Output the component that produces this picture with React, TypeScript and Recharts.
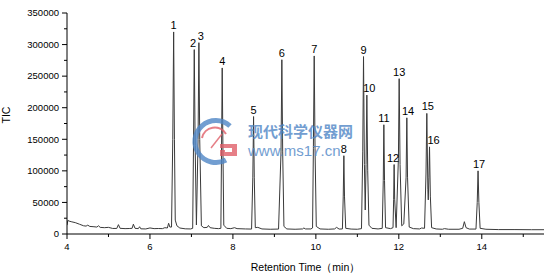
import React from "react";
import { ComposedChart, Line, Scatter, XAxis, YAxis } from "recharts";

// Retention time (min) of each sampled point of the TIC trace
const time = [
  4.0, 4.02, 4.05, 4.1, 4.2, 4.3, 4.4, 4.46, 4.5, 4.55, 4.65, 4.72, 4.76, 4.8, 4.9,
  5.0, 5.1, 5.2, 5.24, 5.28, 5.4, 5.5, 5.57, 5.6, 5.64, 5.72, 5.75, 5.78, 5.9, 6.0,
  6.1, 6.2, 6.3, 6.36, 6.42, 6.45, 6.48, 6.52, 6.55, 6.571, 6.59, 6.61, 6.65, 6.72,
  6.85, 6.98, 7.03, 7.05, 7.068, 7.09, 7.12, 7.16, 7.18, 7.2, 7.24, 7.3, 7.38, 7.41,
  7.45, 7.55, 7.65, 7.71, 7.725, 7.742, 7.76, 7.78, 7.85, 7.95, 8.04, 8.1, 8.3, 8.45,
  8.48, 8.498, 8.515, 8.54, 8.6, 8.7, 8.9, 9.1, 9.16, 9.18, 9.2, 9.23, 9.3, 9.5, 9.68,
  9.71, 9.75, 9.88, 9.92, 9.94, 9.96, 9.98, 10.01, 10.1, 10.3, 10.45, 10.5, 10.56,
  10.64, 10.66, 10.675, 10.69, 10.72, 10.85, 11.0, 11.1, 11.13, 11.149, 11.17, 11.19,
  11.21, 11.229, 11.25, 11.28, 11.35, 11.5, 11.6, 11.625, 11.639, 11.655, 11.68, 11.8,
  11.86, 11.875, 11.887, 11.9, 11.935, 11.99, 12.008, 12.03, 12.07, 12.12, 12.175,
  12.193, 12.21, 12.25, 12.35, 12.5, 12.55, 12.62, 12.655, 12.675, 12.7, 12.71, 12.725,
  12.74, 12.76, 12.79, 12.9, 13.05, 13.1, 13.2, 13.45, 13.54, 13.58, 13.62, 13.7, 13.86,
  13.89, 13.91, 13.93, 13.96, 14.1, 14.4, 14.8, 15.2, 15.5,
];

// TIC intensity at each of the times above
const tic = [
  14000, 21500, 20500, 19500, 18000, 15500, 13000, 12500, 14000, 12000, 11500, 11000,
  13000, 10500, 10000, 10500, 8800, 8800, 14800, 9000, 8500, 8700, 9000, 15500, 9000,
  8500, 11500, 8200, 8000, 9600, 8500, 8700, 8500, 10000, 9500, 17000, 11000, 11000,
  150000, 320000, 150000, 22000, 13000, 9500, 8200, 8000, 9000, 140000, 292000, 140000,
  14300, 150000, 303000, 150000, 13000, 10000, 10500, 13500, 10000, 9000, 8500, 9000,
  130000, 263000, 130000, 14000, 9000, 8500, 10000, 8500, 8000, 7800, 90000, 186000,
  90000, 10000, 10500, 8000, 7500, 7800, 130000, 276000, 130000, 12000, 8000, 7500,
  8000, 9500, 8000, 8000, 9500, 135000, 282000, 135000, 12000, 8000, 7500, 8000, 10500,
  7800, 8000, 60000, 124000, 60000, 9000, 7800, 7500, 8500, 130000, 281000, 110000,
  38000, 110000, 220000, 100000, 14000, 9000, 8000, 9000, 85000, 173000, 85000, 10000,
  8500, 10000, 55000, 110000, 55000, 10000, 120000, 246000, 110000, 13000, 16000, 90000,
  184000, 90000, 11000, 8500, 8000, 9500, 9000, 95000, 191000, 70000, 54000, 90000,
  138000, 60000, 10000, 8000, 7500, 8500, 7500, 7500, 9000, 19500, 10000, 7800, 7800,
  50000, 100000, 50000, 9000, 7500, 7000, 7000, 6800, 6800,
];

// Numbered peaks: label, apex time, apex height
const peakLabels = ["1", "2", "3", "4", "5", "6", "7", "8", "9", "10", "11", "12", "13", "14", "15", "16", "17"];
const peakTimes = [6.571, 7.068, 7.18, 7.742, 8.498, 9.18, 9.96, 10.675, 11.149, 11.229, 11.639, 11.887, 12.008, 12.193, 12.675, 12.74, 13.91];
const peakHeights = [320000, 292000, 303000, 263000, 186000, 276000, 282000, 124000, 281000, 220000, 173000, 110000, 246000, 184000, 191000, 138000, 100000];

const xTicks = [4, 5, 6, 7, 8, 9, 10, 11, 12, 13, 14, 15];
const yTicks = [0, 25000, 50000, 75000, 100000, 125000, 150000, 175000, 200000, 225000, 250000, 275000, 300000, 325000, 350000];

const traceData = time.map((t, i) => ({ t, tic: tic[i] }));
const peakData = peakLabels.map((label, i) => ({ t: peakTimes[i], tic: peakHeights[i], label }));

const labelShift: Record<string, number> = { "2": -1.3, "3": 2, "10": 2.5, "12": -1, "14": 1.3, "15": 1, "16": 4, "17": 1 };

const FONT = "'Liberation Sans', Arial, sans-serif";

const XTick = (props: any) => {
  const { x, y, payload } = props;
  const v = payload.value;
  const major = v % 2 === 0;
  return (
    <g>
      <line x1={x} x2={x} y1={y} y2={y + (major ? 5 : 3)} stroke="#000" strokeWidth={1} />
      {major && (
        <text x={x} y={y + 16} textAnchor="middle" fontSize={9.5} fontFamily={FONT} fill="#000">
          {v}
        </text>
      )}
    </g>
  );
};

const YTick = (props: any) => {
  const { x, y, payload } = props;
  const v = payload.value;
  const major = v % 50000 === 0;
  return (
    <g>
      <line x1={x - (major ? 5 : 3)} x2={x} y1={y} y2={y} stroke="#000" strokeWidth={1} />
      {major && (
        <text x={x - 8} y={y + 3.3} textAnchor="end" fontSize={9.5} fontFamily={FONT} fill="#000">
          {v}
        </text>
      )}
    </g>
  );
};

const PeakLabel = (props: any) => {
  const { cx, cy, payload } = props;
  const dx = labelShift[payload.label] || 0;
  return (
    <text x={cx + dx} y={cy - 3} textAnchor="middle" fontSize={11} fontFamily={FONT} fill="#000">
      {payload.label}
    </text>
  );
};

const Watermark = () => (
  <svg width={551} height={275} style={{ position: "absolute", left: 0, top: 0, pointerEvents: "none" }}>
    <g opacity={0.8}>
      <path d="M 230 126 A 21 21 0 1 0 226 160" fill="none" stroke="#4f86c6" strokeWidth={5} />
      <path d="M 202 138 A 13 13 0 0 1 226 134" fill="none" stroke="#e0606a" strokeWidth={2} />
      <line x1={211} y1={148} x2={222} y2={134} stroke="#e0606a" strokeWidth={1.5} />
      <path d="M 220 144 L 237 144 L 237 156 L 220 156 L 220 150 L 225 150 L 225 152 L 232 152 L 232 148 L 220 148 Z" fill="#e0606a" />
      <text x={248} y={137} fontSize={15} fontWeight="bold" fill="#4f86c6" fontFamily="'Noto Sans CJK SC', sans-serif">
        现代科学仪器网
      </text>
      <text x={248} y={156} fontSize={15} fill="#4f86c6" fontFamily={FONT}>
        www.ms17.cn
      </text>
    </g>
  </svg>
);

export default function App() {
  return (
    <div style={{ position: "absolute", left: 0, top: 0, width: 551, height: 275, background: "#fff" }}>
      <ComposedChart width={551} height={275} margin={{ top: 13, right: 7, left: 0, bottom: 0 }}>
        <XAxis
          dataKey="t"
          type="number"
          domain={[4, 15.5]}
          ticks={xTicks}
          interval={0}
          tickSize={0}
          tickMargin={0}
          tick={<XTick />}
          height={41}
          stroke="#000"
          allowDataOverflow
          label={{ value: "Retention Time（min）", position: "insideBottom", offset: 4, fontSize: 10.5, fill: "#000", fontFamily: FONT }}
        />
        <YAxis
          type="number"
          domain={[0, 350000]}
          ticks={yTicks}
          interval={0}
          tickSize={0}
          tickMargin={0}
          tick={<YTick />}
          width={67}
          stroke="#000"
          allowDataOverflow
          label={{ value: "TIC", angle: -90, position: "insideLeft", offset: 6, fontSize: 10.5, fill: "#000", fontFamily: FONT }}
        />
        <Line
          data={traceData}
          dataKey="tic"
          type="linear"
          stroke="#3a3a3a"
          strokeWidth={1}
          dot={false}
          activeDot={false}
          isAnimationActive={false}
        />
        <Scatter data={peakData} dataKey="tic" shape={<PeakLabel />} isAnimationActive={false} />
      </ComposedChart>
      <Watermark />
    </div>
  );
}
